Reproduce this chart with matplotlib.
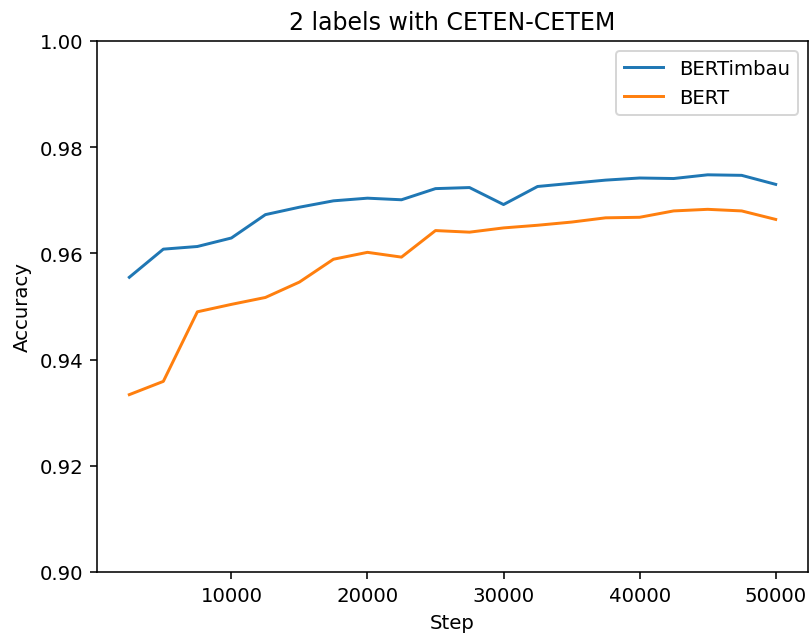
import matplotlib
matplotlib.use("Agg")
import matplotlib.pyplot as plt

steps = list(range(2500, 50001, 2500))
bertimbau = [0.9555, 0.9608, 0.9613, 0.9629, 0.9673, 0.9687, 0.9699, 0.9704, 0.9701, 0.9722,
             0.9724, 0.9692, 0.9726, 0.9732, 0.9738, 0.9742, 0.9741, 0.9748, 0.9747, 0.9730]
bert = [0.9334, 0.9359, 0.9490, 0.9504, 0.9517, 0.9546, 0.9589, 0.9602, 0.9593, 0.9643,
        0.9640, 0.9648, 0.9653, 0.9659, 0.9667, 0.9668, 0.9680, 0.9683, 0.9680, 0.9664]

DPI = 142
fig = plt.figure(figsize=(812 / DPI, 637 / DPI), dpi=DPI)
ax = fig.add_axes([97 / 812, 1 - 573 / 637, (808 - 97) / 812, (573 - 42) / 637])
ax.plot(steps, bertimbau, label="BERTimbau")
ax.plot(steps, bert, label="BERT")
ax.set_ylim(0.90, 1.00)
ax.set_xlabel("Step")
ax.set_ylabel("Accuracy")
ax.set_title("2 labels with CETEN-CETEM")
ax.legend(loc="upper right")

fig.savefig("out.png", dpi=DPI)
